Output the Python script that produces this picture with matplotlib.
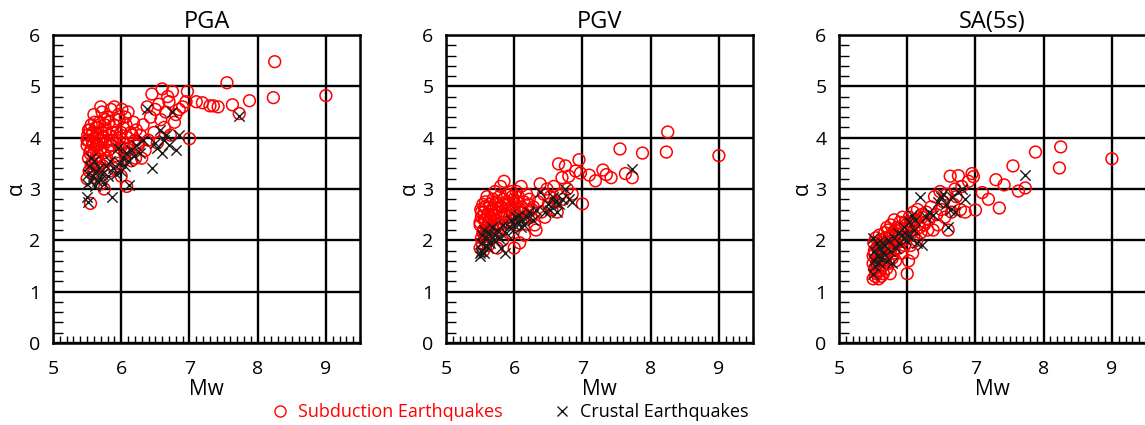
import matplotlib
matplotlib.use("Agg")
import matplotlib.pyplot as plt
from matplotlib.ticker import MultipleLocator
from matplotlib.lines import Line2D

plt.rcParams['font.family'] = ['Open Sans', 'DejaVu Sans']

# ---------------- data ----------------
panel_titles = ["PGA", "PGV", "SA(5s)"]

# subduction events: magnitudes shared by the three panels
sub_mw = [
    5.50, 5.50, 5.51, 5.52, 5.52, 5.53, 5.54, 5.55, 5.55, 5.56, 5.57, 5.58, 5.58, 5.59,
    5.60, 5.60, 5.61, 5.62, 5.63, 5.64, 5.65, 5.65, 5.66, 5.67, 5.68, 5.69, 5.70, 5.70,
    5.71, 5.72, 5.73, 5.74, 5.75, 5.76, 5.77, 5.78, 5.79, 5.80, 5.81, 5.82, 5.83, 5.85,
    5.86, 5.88, 5.89, 5.90, 5.92, 5.93, 5.95, 5.96, 5.98, 5.99,
    6.00, 6.01, 6.02, 6.03, 6.05, 6.06, 6.08, 6.09, 6.10, 6.12, 6.14, 6.15, 6.18, 6.20,
    6.22, 6.25, 6.28, 6.30,
    6.32, 6.35, 6.38, 6.40, 6.43, 6.45, 6.48, 6.50, 6.53, 6.55, 6.58, 6.60, 6.63, 6.65,
    6.68, 6.70, 6.72, 6.75, 6.78, 6.80, 6.85, 6.90, 6.95, 6.97, 7.00,
    7.10, 7.19, 7.30, 7.35, 7.42, 7.55, 7.63, 7.73, 7.88, 8.23, 8.25, 9.00,
    5.50, 5.52, 5.54, 5.56, 5.57, 5.59, 5.61, 5.62, 5.64, 5.66, 5.68, 5.70, 5.72, 5.74,
    5.76, 5.78, 5.80, 5.82, 5.84, 5.87, 5.90, 5.93, 5.97, 6.00, 6.04, 6.07, 6.11, 6.16,
    6.21, 6.26,
]
sub_pga = [
    3.20, 3.85, 4.05, 3.60, 3.95, 3.35, 4.15, 2.72, 3.75, 4.25, 3.50, 3.90, 4.10, 3.30,
    4.45, 3.70, 4.00, 3.55, 4.20, 3.85, 3.40, 4.05, 3.65, 3.95, 4.30, 3.75, 4.60, 3.10,
    3.80, 4.50, 3.45, 4.00, 3.00, 4.35, 3.90, 4.15, 3.60, 4.40, 3.75, 4.05, 3.35, 4.55,
    3.85, 3.95, 4.25, 4.60, 3.65, 4.10, 3.50, 4.45, 4.00, 3.80,
    3.25, 4.55, 3.90, 4.20, 3.70, 4.40, 3.05, 4.00, 4.50, 3.80, 4.10, 3.55, 4.30, 3.95,
    4.15, 3.85, 4.05, 3.60,
    4.25, 3.75, 4.60, 3.95, 4.40, 4.85, 4.10, 4.55, 3.90, 4.65, 4.35, 4.95, 4.20, 4.50,
    4.80, 4.70, 4.05, 4.90, 4.30, 4.45, 4.55, 4.60, 4.70, 4.90, 3.98,
    4.70, 4.68, 4.62, 4.62, 4.60, 5.07, 4.64, 4.47, 4.72, 4.78, 5.48, 4.82,
    3.95, 4.15, 3.70, 3.45, 4.05, 3.85, 4.30, 3.60, 3.90, 4.20, 3.50, 3.95, 4.10, 3.70,
    4.25, 3.55, 3.95, 4.30, 3.85, 4.10, 3.40, 3.95, 4.35, 4.10, 3.80, 4.25, 3.70, 4.05,
    3.60, 3.90,
]
sub_pgv = [
    1.85, 2.30, 2.60, 2.05, 2.45, 1.95, 2.70, 1.80, 2.20, 2.55, 2.10, 2.40, 2.75, 2.00,
    2.85, 2.25, 2.50, 1.90, 2.35, 2.65, 2.15, 2.45, 2.05, 2.60, 2.30, 2.80, 2.20, 2.50,
    2.40, 2.95, 2.10, 2.55, 1.85, 2.70, 2.30, 2.85, 2.20, 3.05, 2.45, 2.65, 2.00, 3.15,
    2.50, 2.35, 2.75, 2.90, 2.15, 2.60, 2.40, 2.95, 2.55, 2.80,
    1.85, 2.70, 2.50, 2.95, 2.30, 2.85, 1.95, 2.60, 3.05, 2.40, 2.75, 2.10, 2.90, 2.55,
    2.80, 2.45, 2.65, 2.30,
    2.20, 2.75, 3.10, 2.55, 2.90, 2.45, 3.00, 2.70, 2.85, 2.60, 3.05, 2.75, 2.55, 3.49,
    2.90, 3.22, 2.80, 3.45, 3.00, 3.25, 2.90, 3.35, 3.57, 3.31, 2.71,
    3.27, 3.16, 3.37, 3.28, 3.22, 3.78, 3.30, 3.22, 3.70, 3.72, 4.11, 3.65,
    2.35, 2.55, 2.15, 2.40, 2.65, 2.25, 2.50, 2.35, 2.70, 2.45, 2.25, 2.60, 2.40, 2.75,
    2.30, 2.55, 2.65, 2.35, 2.80, 2.50, 2.70, 2.45, 2.85, 2.60, 2.75, 2.55, 2.65, 2.45,
    2.70, 2.60,
]
sub_sa5 = [
    1.25, 1.70, 1.95, 1.45, 1.80, 1.30, 2.05, 1.55, 1.35, 1.85, 1.60, 1.25, 1.75, 2.10,
    1.40, 1.90, 1.65, 1.30, 2.00, 1.50, 1.85, 1.35, 1.70, 2.15, 1.60, 1.95, 1.45, 2.25,
    1.80, 2.20, 1.55, 2.05, 1.35, 2.30, 1.90, 1.65, 2.15, 1.75, 2.40, 1.95, 1.60, 2.25,
    2.05, 1.85, 2.35, 2.10, 1.75, 2.45, 2.00, 1.90, 2.30, 2.15,
    1.35, 2.20, 1.60, 2.45, 1.90, 2.30, 1.75, 2.55, 2.10, 2.40, 2.00, 2.60, 2.25, 2.15,
    2.45, 2.30, 2.55, 2.20,
    2.40, 2.65, 2.20, 2.85, 2.50, 2.30, 2.95, 2.60, 2.75, 2.45, 2.90, 2.20, 3.25, 2.55,
    2.70, 3.00, 2.85, 3.26, 2.60, 3.05, 2.55, 3.15, 3.30, 3.24, 2.59,
    2.93, 2.80, 3.18, 2.63, 3.08, 3.45, 2.96, 3.02, 3.72, 3.41, 3.82, 3.59,
    1.55, 1.75, 1.40, 1.65, 1.90, 1.50, 1.80, 1.95, 1.60, 1.85, 2.05, 1.70, 1.95, 1.85,
    2.10, 2.00, 1.80, 2.20, 1.95, 2.10, 2.25, 2.05, 2.35, 2.20, 2.30, 2.15, 2.40, 2.30,
    2.50, 2.35,
]

# crustal events
crust_mw = [
    5.50, 5.50, 5.51, 5.52, 5.53, 5.55, 5.56, 5.58, 5.60, 5.62, 5.63, 5.65, 5.68, 5.70,
    5.72, 5.75, 5.78, 5.80, 5.83, 5.86, 5.88, 5.92, 5.95, 5.98, 6.00, 6.02, 6.05, 6.07,
    6.10, 6.12, 6.15, 6.18, 6.22, 6.28, 6.32, 6.38, 6.45, 6.50, 6.53, 6.57, 6.60, 6.63,
    6.65, 6.70, 6.75, 6.80, 6.85, 7.72,
]
crust_pga = [
    3.10, 2.85, 3.30, 2.75, 3.45, 3.15, 3.60, 3.25, 3.55, 3.05, 3.35, 3.15, 3.40, 3.20,
    3.30, 3.10, 3.45, 3.25, 3.55, 2.85, 3.40, 3.30, 3.80, 3.50, 3.35, 3.60, 3.45, 3.70,
    3.55, 3.08, 3.75, 3.65, 3.85, 3.70, 3.95, 4.55, 3.40, 3.90, 3.80, 4.15, 3.70, 3.95,
    4.05, 3.85, 4.50, 3.76, 4.05, 4.42,
]
crust_pgv = [
    1.75, 1.70, 1.95, 1.80, 2.10, 1.75, 2.20, 1.90, 2.05, 1.85, 2.15, 1.95, 2.25, 2.00,
    2.10, 2.20, 2.05, 1.85, 2.30, 1.75, 2.15, 2.25, 2.40, 2.20, 2.30, 2.45, 2.35, 2.50,
    2.25, 2.40, 2.30, 2.45, 2.55, 2.40, 2.60, 2.95, 2.55, 2.70, 2.60, 2.85, 2.75, 2.55,
    2.70, 2.80, 3.00, 2.80, 2.75, 3.39,
]
crust_sa5 = [
    1.35, 2.05, 1.60, 1.80, 1.50, 1.95, 1.70, 1.55, 1.85, 1.65, 1.95, 1.75, 1.90, 1.60,
    2.00, 1.80, 1.55, 2.05, 1.85, 2.15, 1.95, 2.10, 2.25, 2.00, 2.10, 2.35, 2.05, 2.50,
    2.20, 2.40, 1.95, 2.85, 1.90, 2.45, 2.55, 2.50, 2.75, 2.85, 2.90, 2.70, 2.25, 2.60,
    2.85, 2.55, 2.95, 3.00, 2.80, 3.27,
]

sub_alpha = [sub_pga, sub_pgv, sub_sa5]
crust_alpha = [crust_pga, crust_pgv, crust_sa5]

# ---------------- figure ----------------
fig = plt.figure(figsize=(11.45, 4.25), dpi=100)
lefts = [53 / 1145, 446 / 1145, 839 / 1145]
w, h = 307 / 1145, 308 / 425
b = (425 - 343) / 425

for i in range(3):
    ax = fig.add_axes([lefts[i], b, w, h])
    ax.set_axisbelow(True)
    ax.scatter(sub_mw, sub_alpha[i], s=72, facecolors='none', edgecolors='#ff0000',
               linewidths=1.1, zorder=3)
    ax.scatter(crust_mw, crust_alpha[i], s=55, marker='x', color='#1a1a1a',
               linewidths=1.0, zorder=4)
    ax.set_xlim(5, 9.5)
    ax.set_ylim(0, 6)
    ax.xaxis.set_major_locator(MultipleLocator(1))
    ax.yaxis.set_major_locator(MultipleLocator(1))
    ax.xaxis.set_minor_locator(MultipleLocator(0.1))
    ax.yaxis.set_minor_locator(MultipleLocator(0.2))
    ax.grid(True, which='major', color='black', lw=1.7)
    ax.tick_params(which='major', length=0, labelsize=14)
    ax.tick_params(axis='x', which='major', pad=12)
    ax.tick_params(axis='y', which='major', pad=9)
    ax.tick_params(which='minor', direction='in', width=1.0, top=False, right=False)
    ax.tick_params(axis='x', which='minor', length=5)
    ax.tick_params(axis='y', which='minor', length=7)
    for sp in ax.spines.values():
        sp.set_linewidth(1.8)
    ax.set_title(panel_titles[i], fontsize=17, pad=5)
    ax.set_xlabel('Mw', fontsize=15, labelpad=1)
    ax.set_ylabel('α', fontsize=15, labelpad=2)

handles = [
    Line2D([], [], ls='none', marker='o', mfc='none', mec='#ff0000', ms=8, mew=1.0),
    Line2D([], [], ls='none', marker='x', color='#1a1a1a', ms=7, mew=1.0),
]
leg = fig.legend(handles, ['Subduction Earthquakes', 'Crustal Earthquakes'],
                 loc='center', bbox_to_anchor=(0.445, 0.03), ncol=2, frameon=False,
                 fontsize=13, handlelength=1.0, handletextpad=0.5, columnspacing=2.8)
leg.get_texts()[0].set_color('#ff0000')

fig.savefig('out.png', dpi=100)
